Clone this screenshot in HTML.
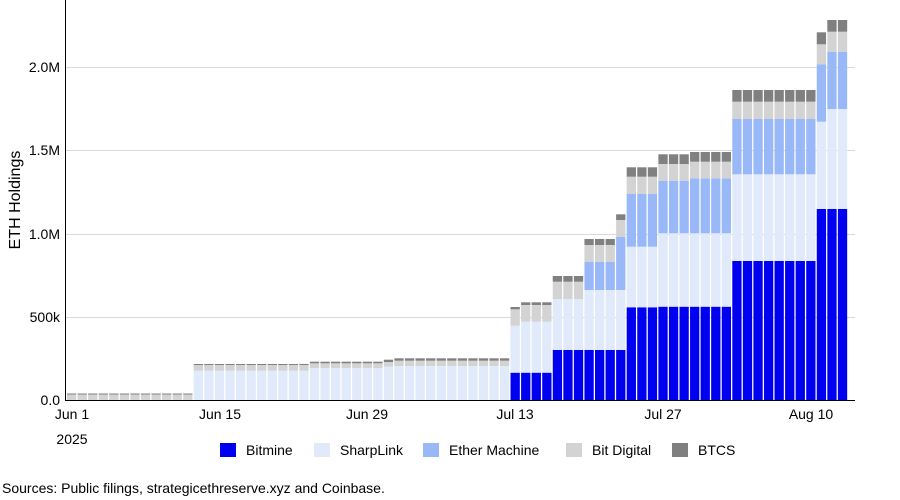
<!DOCTYPE html>
<html><head><meta charset="utf-8"><style>
html,body{margin:0;padding:0;background:#fff;}
svg{display:block;font-family:"Liberation Sans",Arial,sans-serif;}
</style></head><body>
<svg id="s" width="900" height="500" xmlns="http://www.w3.org/2000/svg">
<g stroke="#d9d9d9" stroke-width="1">
<line x1="65" x2="855" y1="67.5" y2="67.5"/>
<line x1="65" x2="855" y1="150.5" y2="150.5"/>
<line x1="65" x2="855" y1="234.5" y2="234.5"/>
<line x1="65" x2="855" y1="317.5" y2="317.5"/>
</g>
<g id="bars"></g>
<line x1="65.5" x2="65.5" y1="0" y2="400" stroke="#000" stroke-width="1"/>
<line x1="65" x2="855" y1="400.5" y2="400.5" stroke="#000" stroke-width="1"/>
<g font-size="14" fill="#000" text-anchor="end">
<text x="60" y="72">2.0M</text>
<text x="60" y="155">1.5M</text>
<text x="60" y="239">1.0M</text>
<text x="60" y="322">500k</text>
<text x="60" y="405">0.0</text>
</g>
<text transform="translate(20,200) rotate(-90)" text-anchor="middle" font-size="16">ETH Holdings</text>
<g font-size="14" text-anchor="middle">
<text x="72" y="419">Jun 1</text>
<text x="72" y="444">2025</text>
<text x="220" y="419">Jun 15</text>
<text x="367" y="419">Jun 29</text>
<text x="515" y="419">Jul 13</text>
<text x="663" y="419">Jul 27</text>
<text x="811" y="419">Aug 10</text>
</g>
<g font-size="14">
<rect x="220" y="443" width="16" height="14" fill="#0000f0"/><text x="246" y="455">Bitmine</text>
<rect x="314" y="443" width="16" height="14" fill="#e1eafb"/><text x="340" y="455">SharpLink</text>
<rect x="423" y="443" width="16" height="14" fill="#99b8f8"/><text x="449" y="455">Ether Machine</text>
<rect x="566" y="443" width="16" height="14" fill="#d3d3d3"/><text x="592" y="455">Bit Digital</text>
<rect x="672" y="443" width="16" height="14" fill="#808080"/><text x="698" y="455">BTCS</text>
</g>
<text x="2" y="493" font-size="14">Sources: Public filings, strategicethreserve.xyz and Coinbase.</text>
</svg>
<script>
var groups=[
[0,11,[400,400,400,394.5,393.5]],
[12,22,[400,370.7,370.7,365,364]],
[23,29,[400,368,368,363.3,361.7]],
[30,30,[400,366.7,366.7,362,359.7]],
[31,41,[400,366,366,360.7,358.3]],
[42,42,[372.7,325.7,325.7,309.3,307]],
[43,45,[372.7,321.7,321.7,305,302.3]],
[46,48,[350,299,299,281.7,276]],
[49,51,[350,290,261.7,245,239]],
[52,52,[350,290,236.7,220,214.3]],
[53,55,[307.3,246.7,194,176.7,167.3]],
[56,58,[306.7,233.3,180.7,164,154.3]],
[59,62,[306.7,233.3,178.3,161.7,152]],
[63,70,[261,174.3,119,101.7,90]],
[71,71,[209,121.7,64.3,44.3,32.3]],
[72,73,[209,109,51.7,31.7,20]]];
var cols=["#0000f0","#e1eafb","#99b8f8","#d3d3d3","#808080"];
var h="";
groups.forEach(function(g){
 for(var i=g[0];i<=g[1];i++){
  var x=67+i*10.56, prev=400;
  for(var k=0;k<5;k++){
   var t=g[2][k];
   if(prev-t>0.01) h+='<rect x="'+x.toFixed(2)+'" y="'+t+'" width="9.3" height="'+(prev-t).toFixed(2)+'" fill="'+cols[k]+'"/>';
   prev=t;
  }
 }
});
document.getElementById("bars").innerHTML=h;
</script>
</body></html>
